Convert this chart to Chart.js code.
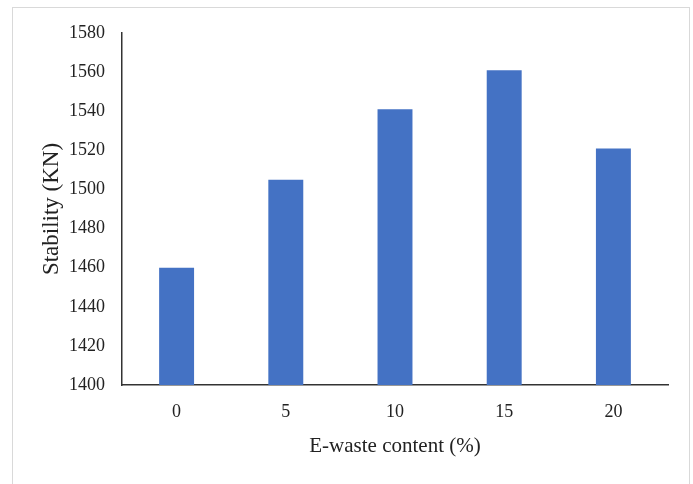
<!DOCTYPE html>
<html>
<head>
<meta charset="utf-8">
<script src="https://cdn.jsdelivr.net/npm/chart.js@4"></script>
<style>
  html, body { margin: 0; padding: 0; background: #ffffff; }
  #wrap { position: relative; width: 693px; height: 484px; overflow: hidden; }
  #frame { position: absolute; left: 12px; top: 7px; width: 678px; height: 490px; border: 1px solid #d9d9d9; box-sizing: border-box; }
  #c { position: absolute; left: 0; top: 0; }
</style>
</head>
<body>
<div id="wrap">
  <div id="frame"></div>
  <canvas id="c" width="693" height="484"></canvas>
</div>
<script>
const categories = ["0", "5", "10", "15", "20"];
const stabilityValues = [1460, 1505, 1541, 1561, 1521];
const yTicks = [1400, 1420, 1440, 1460, 1480, 1500, 1520, 1540, 1560, 1580];
const xTitle = "E-waste content (%)";
const yTitle = "Stability (KN)";

const serif = "'Liberation Serif', 'Times New Roman', serif";

new Chart(document.getElementById('c'), {
  type: 'bar',
  data: {
    labels: categories,
    datasets: [{
      data: stabilityValues,
      backgroundColor: '#4472C4',
      borderWidth: 0,
      barPercentage: 0.32,
      categoryPercentage: 1.0
    }]
  },
  options: {
    responsive: false,
    animation: false,
    devicePixelRatio: 1,
    layout: { padding: { left: 34, right: 25, top: 33, bottom: 25 } },
    plugins: { legend: { display: false }, tooltip: { enabled: false } },
    scales: {
      x: {
        grid: { display: false, drawTicks: false },
        border: { display: true, color: '#333333', width: 1.5 },
        ticks: { color: '#222222', font: { family: serif, size: 18 }, padding: 16 },
        title: { display: true, text: xTitle, color: '#222222', font: { family: serif, size: 21 }, padding: { top: 10, bottom: 0 } },
        afterFit: (s) => { s.height = 74; }
      },
      y: {
        min: 1400, max: 1580,
        afterBuildTicks: (s) => { s.ticks = yTicks.map(v => ({ value: v })); },
        grid: { display: false, drawTicks: false },
        border: { display: true, color: '#333333', width: 1.5 },
        ticks: { color: '#222222', font: { family: serif, size: 18 }, padding: 17, callback: (v) => String(v) },
        title: { display: true, text: yTitle, color: '#222222', font: { family: serif, size: 23 }, padding: { top: 4, bottom: 0 } },
        afterFit: (s) => { s.width = 88; }
      }
    }
  }
});
</script>
</body>
</html>
